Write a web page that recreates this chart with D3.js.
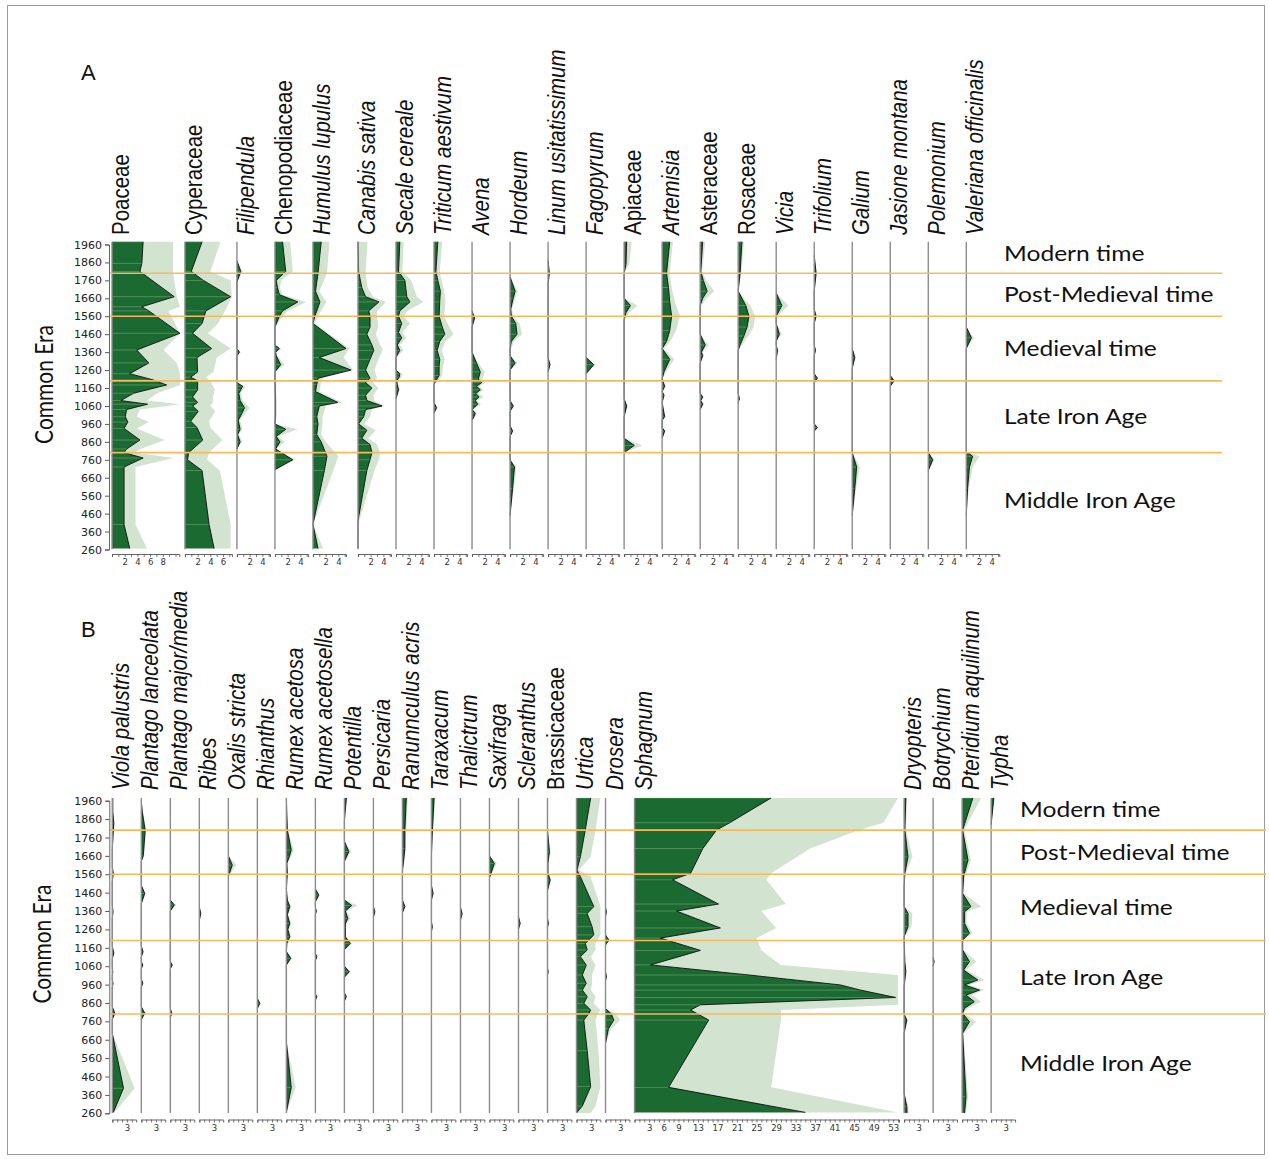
<!DOCTYPE html>
<html>
<head>
<meta charset="utf-8">
<script src="https://cdn.jsdelivr.net/npm/d3@7"></script>
<style>
  body { margin: 0; background: #fff; }
  svg { display: block; }
</style>
</head>
<body>
<svg id="fig" width="1269" height="1159"></svg>
<script>
// ---------- shared axis / period data ----------
const ageTicks = [1960,1860,1760,1660,1560,1460,1360,1260,1160,1060,960,860,760,660,560,460,360,260];
const periodBounds = [1800, 1560, 1200, 800];
const periodNames = ["Modern time", "Post-Medieval time", "Medieval time", "Late Iron Age", "Middle Iron Age"];

// ---------- panel A: taxa, axis extents, tick labels ----------
const taxaA = ["Poaceae","Cyperaceae","Filipendula","Chenopodiaceae","Humulus lupulus","Canabis sativa",
  "Secale cereale","Triticum aestivum","Avena","Hordeum","Linum usitatissimum","Fagopyrum","Apiaceae",
  "Artemisia","Asteraceae","Rosaceae","Vicia","Trifolium","Galium","Jasione montana","Polemonium",
  "Valeriana officinalis"];
const italicA = [false,false,true,false,true,true,true,true,true,true,true,true,false,true,false,false,true,true,true,true,true,true];
const axisMaxA = [10.6,7.4,5.2,5.2,5.2,5.2,5.2,5.2,5.2,5.2,5.2,5.2,5.2,5.2,5.2,5.2,5.2,5.2,5.2,5.2,5.2,5.2];
const tickLabelsA = [[2,4,6,8],[2,4,6]].concat(d3.range(20).map(() => [2,4]));

// profiles: [age CE, value %, upper envelope %]
const poaceae = [[1975,4.9,9.6],[1855,4.7,9.6],[1810,4.4,9.6],[1669,9.8,10.2],[1613,4.7,10.7],[1590,5.8,8.9],
  [1465,10.7,10.7],[1372,3.9,8.1],[1300,5.8,10.2],[1240,2.8,10.7],[1205,6.5,10.7],[1177,8.6,10.7],[1131,3.4,7.1],
  [1090,1.4,5.5],[1070,5.6,10.7],[1040,2.3,4.4],[1000,2.1,3.9],[970,2.5,5.8],[935,1.9,3.9],[870,4.4,8.3],
  [820,2.3,4.5],[800,1.9,3.5],[770,4.9,9.7],[720,1.9,3.7],[400,1.9,3.7],[265,2.8,5.5]];
const cyperaceae = [[1975,2.7,5.6],[1810,1.0,4.0],[1760,2.9,7.2],[1669,7.2,7.4],[1590,3.3,6.3],[1520,2.7,5.2],
  [1465,1.2,3.6],[1380,4.2,7.2],[1330,1.9,5.0],[1250,2.0,4.5],[1220,0.9,3.3],[1200,2.0,4.0],[1150,2.0,4.7],
  [1110,1.2,4.4],[1080,2.0,4.4],[1060,1.2,4.0],[1030,2.1,4.8],[975,0.9,3.8],[940,1.9,4.0],[870,2.8,5.9],
  [800,0.6,3.8],[760,0.4,3.5],[700,2.7,5.5],[400,3.8,7.2],[265,4.6,7.2]];
const filipendula = [[1870,0,0],[1810,0.6,0.9],[1750,0,0],[1380,0,0],[1360,0.4,0.6],[1340,0,0],[1190,0,0],
  [1170,0.9,1.3],[1150,0.6,1.0],[1130,0.3,0.6],[1090,0.5,0.9],[1050,1.2,2.0],[1020,0.8,1.3],[980,0.2,0.5],
  [930,0.5,0.9],[900,0.1,0.3],[860,0.5,0.9],[820,0,0]];
const chenopodiaceae = [[1975,1.2,2.4],[1810,1.7,2.8],[1760,0.2,1.0],[1720,0.4,0.8],[1680,0.7,1.2],[1640,3.6,4.9],
  [1590,1.2,2.0],[1560,0.7,1.2],[1500,0,0],[1400,0,0],[1380,0.7,1.0],[1360,0.1,0.2],[1340,0.2,0.4],[1290,0.9,1.5],
  [1250,0,0],[1200,0,0.2],[1100,0.1,0.2],[1000,0.1,0.2],[960,0,0],[930,1.7,3.6],[890,0.2,0.5],[860,0.8,1.5],
  [820,0.1,0.3],[760,2.8,3.2],[705,0,0]];
const humulus = [[1975,1.3,2.6],[1800,0.8,2.2],[1700,0.4,1.0],[1640,1.1,2.1],[1560,0.3,0.8],[1520,0,0.3],
  [1380,5.2,5.7],[1330,1.0,4.8],[1260,6.0,6.3],[1215,0.8,1.5],[1180,0.6,1.2],[1140,0.4,1.0],[1080,3.9,4.6],
  [1060,1.0,2.0],[1000,0.6,1.5],[960,0.8,1.5],[900,0.6,1.3],[860,1.3,2.0],[780,2.2,4.0],[700,1.8,3.2],
  [400,0,0],[265,0.8,1.6]];
const canabis = [[1975,0,1.5],[1810,0.1,1.2],[1720,0.6,1.5],[1669,1.2,2.4],[1640,3.3,4.4],[1590,1.7,3.0],
  [1560,1.9,3.0],[1500,1.9,3.2],[1460,1.4,2.8],[1400,2.2,3.5],[1370,2.5,3.9],[1320,1.9,3.2],[1260,1.2,2.6],
  [1215,1.9,3.0],[1190,1.2,2.4],[1160,2.2,3.2],[1120,1.2,2.4],[1090,1.4,2.6],[1060,3.8,4.1],[1040,1.2,2.2],
  [1000,0.9,1.9],[960,0.1,1.0],[925,1.4,2.8],[880,0.6,1.6],[845,1.9,3.0],[800,2.2,3.5],[760,1.9,3.3],
  [700,1.4,2.6],[420,0,0.2],[265,0,0]];
const secale = [[1975,0.6,1.2],[1810,0.4,1.0],[1760,1.4,2.4],[1669,1.7,3.3],[1640,2.2,4.3],[1590,0.6,1.8],
  [1560,0.4,1.2],[1520,0.9,2.2],[1470,0.4,1.0],[1440,0.9,1.6],[1400,0.2,0.6],[1370,0.6,1.2],[1330,0,0],
  [1260,0,0],[1240,0.6,1.0],[1220,0.5,0.9],[1200,0.1,0.3],[1180,0.2,0.4],[1150,0.4,0.6],[1100,0,0]];
const triticum = [[1975,0.6,1.3],[1810,0.3,0.9],[1760,0.6,1.2],[1700,1.0,1.6],[1640,0.9,1.8],[1560,0.8,1.6],
  [1500,1.3,2.4],[1460,1.7,3.1],[1420,0.9,1.8],[1370,0.5,1.2],[1320,0.9,1.7],[1280,0.8,1.4],[1230,0.8,1.3],
  [1200,0.3,0.6],[1180,0,0],[1080,0,0],[1050,0.4,0.6],[1020,0,0]];
const avena = [[1590,0,0],[1550,0.4,0.6],[1500,0,0],[1360,0,0],[1300,0.7,1.0],[1250,1.3,2.0],[1210,1.0,1.6],
  [1190,1.5,2.1],[1170,0.7,1.2],[1150,1.3,1.8],[1130,0.6,1.1],[1110,1.1,1.8],[1090,0.5,0.9],[1070,0.9,1.4],
  [1050,0.3,0.6],[1040,0,0.2],[1020,0.5,0.8],[1000,0.3,0.5],[980,0,0]];
const hordeum = [[1780,0,0],[1700,0.8,1.2],[1660,0.5,0.8],[1600,0.1,0.3],[1560,0.2,0.5],[1520,0.9,1.5],
  [1460,1.1,1.9],[1420,0.2,0.6],[1380,0,0.2],[1340,0,0],[1300,0.8,1.2],[1260,0,0],[1090,0,0],[1060,0.5,0.7],
  [1030,0,0],[950,0,0],[920,0.4,0.6],[890,0,0],[760,0,0],[720,0.7,1.0],[600,0.4,0.6],[450,0,0]];
const linum = [[1870,0,0],[1800,0.2,0.3],[1740,0,0],[1330,0,0],[1290,0.3,0.4],[1250,0,0]];
const fagopyrum = [[1330,0,0],[1290,1.2,1.5],[1240,0,0]];
const apiaceae = [[1975,0.4,1.2],[1850,0.3,0.8],[1800,0,0],[1660,0,0],[1620,1.0,2.1],[1580,0.3,0.8],[1540,0,0],
  [1100,0,0],[1060,0.4,0.6],[1000,0,0],[880,0,0],[840,1.6,2.9],[800,0,0]];
const artemisia = [[1975,1.2,1.7],[1800,0.7,1.2],[1720,1.0,1.5],[1640,1.2,2.0],[1560,1.5,2.8],[1480,1.2,2.2],
  [1420,0.7,1.3],[1380,0,0.3],[1320,1.2,1.9],[1250,0.3,0.6],[1210,0,0],[1170,0.4,0.6],[1140,0,0.1],
  [1120,0.3,0.4],[1080,0,0],[1000,0.4,0.5],[980,0,0],[940,0,0],[920,0.4,0.5],[880,0,0]];
const asteraceae = [[1975,0.4,0.8],[1810,0.1,0.3],[1760,0.5,1.0],[1700,1.1,2.2],[1660,0.4,1.0],[1620,0,0.2],
  [1460,0,0],[1400,0.8,1.3],[1360,0.2,0.4],[1340,0.4,0.6],[1300,0,0],[1130,0,0],[1110,0.4,0.6],[1090,0.1,0.2],
  [1070,0.4,0.6],[1040,0,0]];
const rosaceae = [[1975,0.6,0.9],[1800,0.3,0.5],[1700,0,0],[1620,1.2,1.9],[1560,1.7,2.7],[1500,1.4,2.4],
  [1450,0.9,1.6],[1400,0.3,0.6],[1370,0,0],[1130,0,0],[1100,0.2,0.3],[1080,0,0]];
const vicia = [[1690,0,0],[1620,0.9,1.9],[1560,0,0.2],[1520,0,0],[1460,0.5,0.9],[1420,0,0],[1400,0,0],
  [1370,0.2,0.4],[1320,0,0]];
const trifolium = [[1900,0,0],[1800,0.3,0.4],[1700,0,0],[1600,0,0],[1560,0.3,0.4],[1520,0,0],[1400,0,0],
  [1370,0.2,0.3],[1340,0,0],[1240,0,0],[1215,0.5,0.7],[1190,0,0],[960,0,0],[940,0.5,0.7],[920,0,0]];
const galium = [[1380,0,0],[1330,0.4,0.6],[1270,0,0],[800,0,0],[720,0.7,1.2],[600,0.4,0.6],[450,0,0]];
const jasione = [[1230,0,0],[1200,0.6,0.8],[1170,0,0]];
const polemonium = [[800,0,0],[760,0.7,1.0],[700,0,0]];
const valeriana = [[1500,0,0],[1440,0.8,1.2],[1380,0,0],[805,0,0],[780,1.0,2.1],[720,0.5,1.0],[600,0.2,0.4],[450,0,0]];

const profilesA = [poaceae, cyperaceae, filipendula, chenopodiaceae, humulus, canabis, secale, triticum, avena,
  hordeum, linum, fagopyrum, apiaceae, artemisia, asteraceae, rosaceae, vicia, trifolium, galium, jasione,
  polemonium, valeriana];

// ---------- panel B ----------
const taxaB = ["Viola palustris","Plantago lanceolata","Plantago major/media","Ribes","Oxalis stricta","Rhianthus",
  "Rumex acetosa","Rumex acetosella","Potentilla","Persicaria","Ranunnculus acris","Taraxacum","Thalictrum",
  "Saxifraga","Scleranthus","Brassicaceae","Urtica","Drosera","Sphagnum","Dryopteris","Botrychium",
  "Pteridium aquilinum","Typha"];
const italicB = taxaB.map(n => n !== "Brassicaceae");
const axisMaxB = [4.9,4.9,4.9,4.9,4.9,4.9,4.9,4.9,4.9,4.9,4.9,4.9,4.9,4.9,4.9,4.9,4.9,4.9,54.2,4.9,4.9,4.9,4.9];
const sphagnumTickLabels = [3,6,9,13,17,21,25,29,33,37,41,45,49,53];
const tickLabelsB = taxaB.map(n => n === "Sphagnum" ? sphagnumTickLabels : [3]);

const viola = [[1975,0.1,0.2],[1900,0.1,0.2],[1837,0.3,0.5],[1700,0,0.1],[1600,0,0],[1565,0.2,0.4],[1520,0,0],
  [1390,0,0],[1356,0.15,0.3],[1320,0,0],[1170,0,0],[1130,0.3,0.5],[1100,0,0],[1050,0,0],[1030,0.1,0.2],
  [1010,0,0],[985,0,0],[967,0.15,0.3],[945,0,0],[840,0,0],[804,0.5,0.8],[770,0,0],[695,0,0],[396,2.3,4.6],
  [265,0.2,0.4]];
const plantagoL = [[1960,0,0],[1900,0.2,0.3],[1800,0.8,1.0],[1660,0.4,0.6],[1630,0,0],[1500,0,0],[1456,0.7,0.9],
  [1400,0,0],[1170,0,0],[1139,0.35,0.5],[1110,0,0],[1085,0,0],[1066,0.3,0.4],[1045,0,0],[990,0,0],
  [967,0.3,0.4],[945,0,0],[840,0,0],[804,0.7,1.0],[770,0,0]];
const plantagoM = [[1420,0,0],[1393,0.8,1.3],[1360,0,0],[1085,0,0],[1066,0.4,0.5],[1045,0,0],[830,0,0],
  [804,0.3,0.4],[780,0,0]];
const ribes = [[1380,0,0],[1347,0.3,0.4],[1310,0,0]];
const oxalis = [[1660,0,0],[1610,0.8,1.6],[1547,0,0]];
const rhianthus = [[885,0,0],[858,0.5,0.6],[830,0,0]];
const rumexA = [[1975,0,0],[1800,0.2,0.3],[1692,1.0,1.5],[1655,0.6,1.0],[1620,0.1,0.2],[1565,0.2,0.3],
  [1480,0,0],[1420,0.2,0.3],[1384,0.7,1.0],[1340,0.2,0.3],[1293,0.7,1.0],[1260,0.3,0.5],[1220,0.7,1.0],
  [1184,0.1,0.2],[1140,0,0],[1103,0.9,1.2],[1066,0,0],[650,0,0],[400,1.0,1.9],[265,0,0]];
const rumexAs = [[1480,0,0],[1447,0.7,0.9],[1410,0,0],[1380,0,0],[1360,0.2,0.3],[1340,0,0],[1130,0,0],
  [1112,0.3,0.4],[1090,0,0],[910,0,0],[894,0.3,0.4],[875,0,0]];
const potentilla = [[1975,0.4,0.6],[1850,0,0],[1740,0,0],[1683,0.9,1.4],[1630,0,0],[1420,0,0],[1390,1.5,2.7],
  [1360,0.2,0.5],[1320,0.7,1.2],[1290,0.2,0.4],[1270,0.2,0.3],[1220,0.2,0.3],[1184,1.2,1.6],[1150,0,0.1],
  [1060,0,0],[1030,1.0,1.3],[1000,0,0],[915,0,0],[894,0.4,0.5],[870,0,0]];
const persicaria = [[1385,0,0],[1356,0.3,0.4],[1325,0,0]];
const ranunculus = [[1975,0.8,1.1],[1800,0.5,0.8],[1700,0.5,0.7],[1620,0.2,0.3],[1580,0,0],[1420,0,0],
  [1384,0.5,0.7],[1350,0,0]];
const taraxacum = [[1975,0.55,0.8],[1800,0.2,0.4],[1660,0,0],[1500,0,0],[1456,0.35,0.5],[1420,0,0],[1300,0,0],
  [1275,0.2,0.3],[1250,0,0]];
const thalictrum = [[1380,0,0],[1347,0.35,0.4],[1310,0,0]];
const saxifraga = [[1660,0,0],[1619,1.0,1.5],[1540,0,0]];
const scleranthus = [[1330,0,0],[1293,0.35,0.4],[1260,0,0]];
const brassicaceae = [[1800,0,0],[1683,0.4,0.6],[1620,0.1,0.2],[1565,0.1,0.2],[1529,0.55,0.8],[1470,0,0],
  [1320,0,0],[1293,0.2,0.3],[1270,0,0],[1050,0,0],[1030,0.15,0.2],[1010,0,0]];
const urtica = [[1975,2.9,4.9],[1800,1.8,3.9],[1655,0.8,2.9],[1583,0.1,0.5],[1547,0.8,2.9],[1384,3.55,4.9],
  [1347,2.2,4.9],[1275,3.2,4.9],[1230,3.55,4.9],[1184,1.8,3.9],[1148,2.2,3.9],[1112,0.8,2.9],[1066,2.0,3.9],
  [1012,1.2,3.2],[967,2.0,3.2],[930,1.2,2.9],[894,2.2,3.9],[858,1.5,3.5],[822,2.9,4.9],[804,2.6,4.4],
  [767,1.5,3.9],[600,2.2,4.5],[405,2.9,4.9],[300,1.2,3.9],[262,0,2.9]];
const drosera = [[1380,0,0],[1356,0.2,0.3],[1330,0,0],[1230,0,0],[1202,0.7,0.9],[1175,0,0],[1030,0,0],
  [1003,0.2,0.3],[980,0,0],[830,0,0],[800,1.2,2.2],[767,1.7,3.0],[720,0.6,1.2],[640,0,0]];
const sphagnum = [[1975,28.0,54.0],[1840,19.5,51.0],[1800,16.8,46.0],[1700,14.0,36.0],[1565,11.5,28.0],
  [1530,7.8,27.0],[1398,17.2,31.0],[1360,8.6,26.0],[1268,17.6,29.0],[1213,5.3,25.0],[1146,13.5,26.0],
  [1067,3.3,30.0],[1012,23.5,54.0],[958,42.2,54.0],[930,46.3,54.0],[890,53.5,54.0],[850,13.5,54.0],
  [822,11.5,30.0],[767,15.2,30.0],[401,7.0,28.0],[265,35.0,54.0]];
const dryopteris = [[1975,0.35,0.6],[1800,0.15,0.4],[1655,0.8,1.7],[1565,0.15,0.3],[1492,0,0],[1384,0,0.1],
  [1347,0.8,1.7],[1275,0.8,1.5],[1220,0,0],[1085,0.15,0.2],[1030,0.35,0.5],[949,0,0],[800,0,0],[767,0.55,0.8],
  [695,0,0],[369,0,0],[296,0.55,0.9],[262,0.6,0.9]];
const botrychium = [[1110,0,0],[1085,0.2,0.3],[1060,0,0]];
const pteridium = [[1975,2.2,3.9],[1800,0.1,0.4],[1637,1.2,1.8],[1547,0.3,0.6],[1456,0.1,0.3],[1384,1.8,3.9],
  [1356,0.5,1.0],[1293,0.5,0.9],[1239,1.5,2.2],[1202,0.1,0.3],[1148,0.1,0.3],[1085,1.5,2.9],[1039,0.3,0.8],
  [985,3.2,4.6],[958,0.5,1.5],[930,3.55,4.6],[903,0.8,2.0],[867,2.5,3.9],[831,0.5,1.2],[804,0.1,0.3],
  [758,1.5,2.9],[695,0.1,0.3],[350,0.8,1.2],[262,0.5,0.8]];
const typha = [[1975,0.55,0.7],[1830,0,0]];

const profilesB = [viola, plantagoL, plantagoM, ribes, oxalis, rhianthus, rumexA, rumexAs, potentilla, persicaria,
  ranunculus, taraxacum, thalictrum, saxifraga, scleranthus, brassicaceae, urtica, drosera, sphagnum, dryopteris,
  botrychium, pteridium, typha];

// ---------- drawing ----------
const DARK = "#1b6a31", LIGHT = "#d2e3cf", ORANGE = "#f7ba5a";
const svg = d3.select("#fig");

svg.append("rect").attr("x", 7.5).attr("y", 5.5).attr("width", 1257).attr("height", 1149)
  .attr("fill", "none").attr("stroke", "#9a9a9a").attr("stroke-width", 1);

function drawPanel(o) {
  const g = svg.append("g");
  const y = d3.scaleLinear().domain([1960, 260]).range([o.y1960, o.y260]);
  const yTop = y(1975), yBot = y(262);

  let cursor = o.left;
  const cols = o.taxa.map((name, i) => {
    const prof = o.profiles[i];
    const peak = d3.max(prof, d => Math.max(d[1], d[2]));
    const span = Math.max(o.axisMax[i], peak);
    const x = d3.scaleLinear().domain([0, o.axisMax[i]]).range([cursor, cursor + o.axisMax[i] * o.unit]);
    cursor += span * o.unit + o.gap;
    return { name, prof, x, italic: o.italic[i], labels: o.tickLabels[i], axisMax: o.axisMax[i] };
  });

  cols.forEach(c => {
    const cg = g.append("g");
    const light = d3.area().y(d => y(d[0])).x0(c.x(0)).x1(d => c.x(d[2]));
    const dark = d3.area().y(d => y(d[0])).x0(c.x(0)).x1(d => c.x(d[1]));
    const edge = d3.line().y(d => y(d[0])).x(d => c.x(d[1]));

    cg.append("path").attr("d", light(c.prof)).attr("fill", LIGHT);
    cg.append("path").attr("d", dark(c.prof)).attr("fill", DARK);
    // pale sample lines inside the filled curve
    cg.selectAll("line.s").data(c.prof.filter(d => d[1] > 0.25)).join("line")
      .attr("x1", c.x(0)).attr("x2", d => c.x(d[1]))
      .attr("y1", d => y(d[0])).attr("y2", d => y(d[0]))
      .attr("stroke", "#a9cc98").attr("stroke-width", 0.7).attr("opacity", 0.55);
    cg.append("path").attr("d", edge(c.prof)).attr("fill", "none")
      .attr("stroke", "#111").attr("stroke-width", 0.9);
    // column baseline
    cg.append("line").attr("x1", c.x(0)).attr("x2", c.x(0)).attr("y1", yTop).attr("y2", yBot)
      .attr("stroke", "#8c8c8c").attr("stroke-width", 1.4);

    // bottom axis
    const ticks = d3.range(0, Math.floor(c.axisMax) + 1);
    const ax = d3.axisBottom(c.x).tickValues(ticks).tickSize(3).tickSizeOuter(3)
      .tickFormat(d => c.labels.includes(d) ? d : "");
    const ag = g.append("g").attr("transform", `translate(0,${o.xAxisY})`).call(ax);
    ag.select(".domain").attr("stroke", "#555").attr("stroke-width", 0.9);
    ag.selectAll(".tick line").attr("stroke", "#555").attr("stroke-width", 0.8);
    ag.selectAll("text").attr("font-family", "DejaVu Sans").attr("font-size", 8.5)
      .attr("fill", "#333").attr("dy", "0.6em");

    // taxon name
    g.append("text")
      .attr("transform", `translate(${c.x(0) + 17},${o.labelY}) scale(1.2,1) rotate(-90)`)
      .attr("font-family", "Liberation Sans, Arial, sans-serif")
      .attr("font-size", 20.5)
      .attr("font-style", c.italic ? "italic" : "normal")
      .attr("fill", "#111")
      .text(c.name);
  });

  // period boundaries
  g.selectAll("line.p").data(periodBounds).join("line")
    .attr("x1", o.left - 2).attr("x2", o.lineEnd)
    .attr("y1", d => y(d)).attr("y2", d => y(d))
    .attr("stroke", ORANGE).attr("stroke-width", 1.6);

  // period names at mid-height of each band
  const edges = [2020].concat(periodBounds, [260]);
  periodNames.forEach((name, i) => {
    const ym = (y(edges[i]) + y(edges[i + 1])) / 2;
    g.append("text")
      .attr("transform", `translate(${o.periodX},${ym}) scale(1.2,1)`)
      .attr("dy", "0.36em")
      .attr("font-family", "Lato, 'Open Sans', sans-serif")
      .attr("font-size", 20.5).attr("fill", "#111")
      .text(name);
  });

  // age axis
  const yAx = d3.axisLeft(y).tickValues(ageTicks).tickSize(4).tickSizeOuter(4).tickFormat(d3.format("d"));
  const yg = g.append("g").attr("transform", `translate(${o.left - 3},0)`).call(yAx);
  yg.select(".domain").attr("stroke", "#555").attr("stroke-width", 0.9);
  yg.selectAll(".tick line").attr("stroke", "#555");
  yg.selectAll("text").attr("font-family", "DejaVu Sans").attr("font-size", 11).attr("fill", "#222");

  g.append("text")
    .attr("transform", `translate(${o.eraX},${y(1180)}) scale(1.15,1) rotate(-90)`)
    .attr("text-anchor", "middle")
    .attr("font-family", "Lato, 'Open Sans', sans-serif")
    .attr("font-size", 21).attr("fill", "#111")
    .text("Common Era");

  g.append("text").attr("x", o.tagX).attr("y", o.tagY)
    .attr("font-family", "Liberation Sans, Arial, sans-serif").attr("font-size", 22).attr("fill", "#111")
    .text(o.tag);
}

drawPanel({
  tag: "A", tagX: 81, tagY: 80,
  taxa: taxaA, italic: italicA, profiles: profilesA, axisMax: axisMaxA, tickLabels: tickLabelsA,
  left: 112, unit: 6.35, gap: 5,
  y1960: 244.5, y260: 549.5, xAxisY: 554, labelY: 235,
  lineEnd: 1222, periodX: 1004, eraX: 53
});

drawPanel({
  tag: "B", tagX: 81, tagY: 637,
  taxa: taxaB, italic: italicB, profiles: profilesB, axisMax: axisMaxB, tickLabels: tickLabelsB,
  left: 112.3, unit: 4.88, gap: 5.1,
  y1960: 800.7, y260: 1113.3, xAxisY: 1119.5, labelY: 790,
  lineEnd: 1266, periodX: 1020, eraX: 51
});
</script>
</body>
</html>
